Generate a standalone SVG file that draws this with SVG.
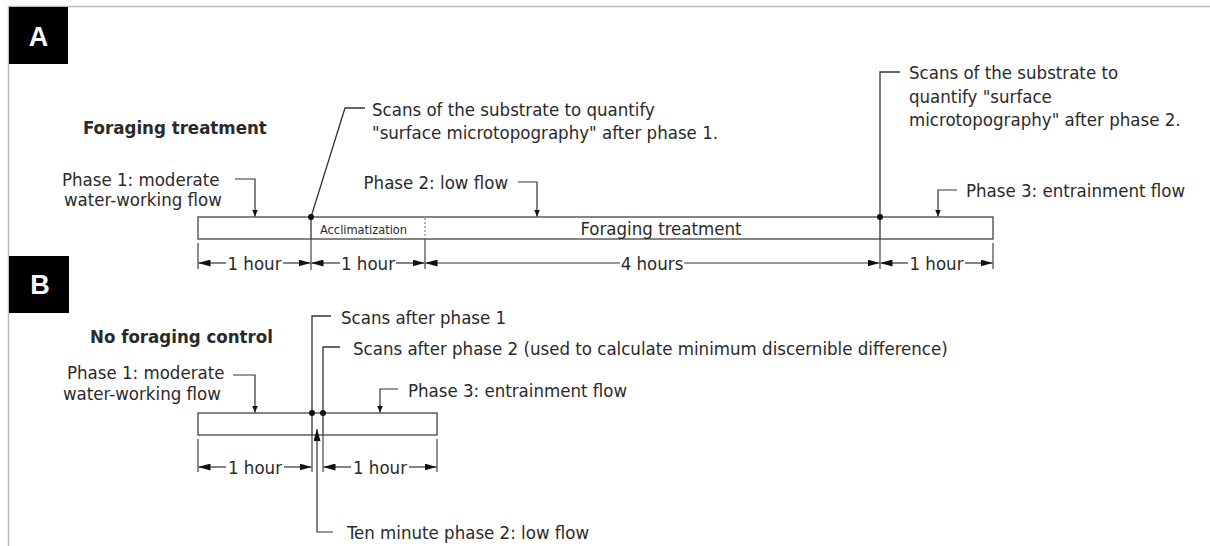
<svg xmlns="http://www.w3.org/2000/svg" width="1210" height="546" viewBox="0 0 1210 546">
<defs>
<style>
text{font-family:"DejaVu Sans Condensed","DejaVu Sans",sans-serif;font-size:18.5px;fill:#2a2a2a}
.b{font-weight:bold}
.sm{font-size:12.7px}
.mid{text-anchor:middle}
.lab{font-family:"Liberation Sans",Arial,sans-serif;font-weight:bold;font-size:27px;fill:#fff;text-anchor:middle}
.ln{stroke:#333;stroke-width:1.3;fill:none}
.bar{stroke:#444;stroke-width:1.3;fill:#fff}
.dim{stroke:#333;stroke-width:1.2;fill:none;marker-end:url(#da)}
.ldr{stroke:#333;stroke-width:1.2;fill:none;marker-end:url(#la)}
.ext{stroke:#444;stroke-width:1.2}
</style>
<marker id="da" viewBox="0 0 12 7" refX="12" refY="3.5" markerWidth="12" markerHeight="7" markerUnits="userSpaceOnUse" orient="auto"><path d="M0,0L12,3.5L0,7z" fill="#111"/></marker>
<marker id="la" viewBox="0 0 7 6" refX="7" refY="3" markerWidth="7" markerHeight="6" markerUnits="userSpaceOnUse" orient="auto"><path d="M0,0L7,3L0,6z" fill="#111"/></marker>
</defs>
<rect width="1210" height="546" fill="#fff"/>
<path d="M8.5,546V6.5H1210" stroke="#bbb" stroke-width="1.5" fill="none"/>

<g id="labelA"><rect x="9" y="7" width="59" height="57" fill="#000"/><text class="lab" x="38.5" y="46">A</text></g>
<g id="labelB"><rect x="9" y="256" width="60" height="57" fill="#000"/><text class="lab" x="40" y="294">B</text></g>

<g id="titleA"><text class="b" x="83" y="134">Foraging treatment</text></g>
<g id="titleB"><text class="b" x="90" y="343">No foraging control</text></g>

<g id="barA">
<rect class="bar" x="198" y="217" width="795" height="22"/>
<line class="ln" x1="311" y1="217" x2="311" y2="239"/>
<line x1="425" y1="218" x2="425" y2="238" stroke="#888" stroke-width="1.2" stroke-dasharray="2,2"/>
<line class="ln" x1="880" y1="217" x2="880" y2="239"/>
<text class="sm" x="320" y="233.5">Acclimatization</text>
<text class="mid" x="661" y="235">Foraging treatment</text>
</g>

<g id="barB">
<rect class="bar" x="198" y="413" width="239" height="22"/>
<line class="ln" x1="312" y1="413" x2="312" y2="435"/>
<line class="ln" x1="323" y1="413" x2="323" y2="435"/>
</g>

<g id="notesA">
<text x="62" y="186">Phase 1: moderate</text>
<text x="64" y="206">water-working flow</text>
<text x="372" y="116">Scans of the substrate to quantify</text>
<text x="372" y="139">"surface microtopography" after phase 1.</text>
<text x="508" y="189" text-anchor="end">Phase 2: low flow</text>
<text x="909" y="79">Scans of the substrate to</text>
<text x="909" y="103">quantify "surface</text>
<text x="909" y="126">microtopography" after phase 2.</text>
<text x="966" y="197">Phase 3: entrainment flow</text>
</g>

<g id="notesB">
<text x="67" y="379">Phase 1: moderate</text>
<text x="63" y="400">water-working flow</text>
<text x="341" y="324">Scans after phase 1</text>
<text x="353" y="355">Scans after phase 2 (used to calculate minimum discernible difference)</text>
<text x="408" y="397">Phase 3: entrainment flow</text>
<text x="347" y="539">Ten minute phase 2: low flow</text>
</g>

<g id="dimA">
<text class="mid" x="254.5" y="269.5">1 hour</text>
<text class="mid" x="368" y="269.5">1 hour</text>
<text class="mid" x="652" y="269.5">4 hours</text>
<text class="mid" x="936.5" y="269.5">1 hour</text>
</g>
<g id="dimB">
<text class="mid" x="255" y="473.5">1 hour</text>
<text class="mid" x="380" y="473.5">1 hour</text>
</g>

<g id="connectors">
<!-- extension lines A -->
<line class="ext" x1="198" y1="243" x2="198" y2="269"/>
<line class="ext" x1="311" y1="239" x2="311" y2="270"/>
<line class="ext" x1="425" y1="239" x2="425" y2="269"/>
<line class="ext" x1="880" y1="239" x2="880" y2="269"/>
<line class="ext" x1="993" y1="243" x2="993" y2="269"/>
<!-- dimension arrows A -->
<line class="dim" x1="226" y1="263" x2="198.5" y2="263"/>
<line class="dim" x1="283" y1="263" x2="310.5" y2="263"/>
<line class="dim" x1="340" y1="263" x2="311.5" y2="263"/>
<line class="dim" x1="396" y1="263" x2="424.5" y2="263"/>
<line class="dim" x1="620" y1="263" x2="425.5" y2="263"/>
<line class="dim" x1="684" y1="263" x2="879.5" y2="263"/>
<line class="dim" x1="908" y1="263" x2="880.5" y2="263"/>
<line class="dim" x1="965" y1="263" x2="992.5" y2="263"/>
<!-- leaders A -->
<path class="ldr" d="M235,179H255V216.5"/>
<path class="ln" d="M311,217L345,108H365"/>
<circle cx="311" cy="217" r="3" fill="#111"/>
<path class="ldr" d="M518,182H537V216.5"/>
<path class="ln" d="M880,217V72H900"/>
<circle cx="880" cy="217" r="3" fill="#111"/>
<path class="ldr" d="M957,190H938V216.5"/>

<!-- extension lines B -->
<line class="ext" x1="198" y1="439" x2="198" y2="472"/>
<line class="ext" x1="312" y1="435" x2="312" y2="472"/>
<line class="ext" x1="323" y1="435" x2="323" y2="472"/>
<line class="ext" x1="437" y1="439" x2="437" y2="472"/>
<!-- dimension arrows B -->
<line class="dim" x1="226" y1="467" x2="198.5" y2="467"/>
<line class="dim" x1="284" y1="467" x2="311.5" y2="467"/>
<line class="dim" x1="351" y1="467" x2="323.5" y2="467"/>
<line class="dim" x1="409" y1="467" x2="436.5" y2="467"/>
<!-- leaders B -->
<path class="ldr" d="M233,375H255V412.5"/>
<path class="ln" d="M312,413V316H331"/>
<circle cx="312" cy="413" r="3" fill="#111"/>
<path class="ln" d="M323,413V347H340"/>
<circle cx="323" cy="413" r="3" fill="#111"/>
<path class="ldr" d="M398,389H380V412.5"/>
<path class="dim" d="M333,532H317V429"/>
</g>
</svg>
